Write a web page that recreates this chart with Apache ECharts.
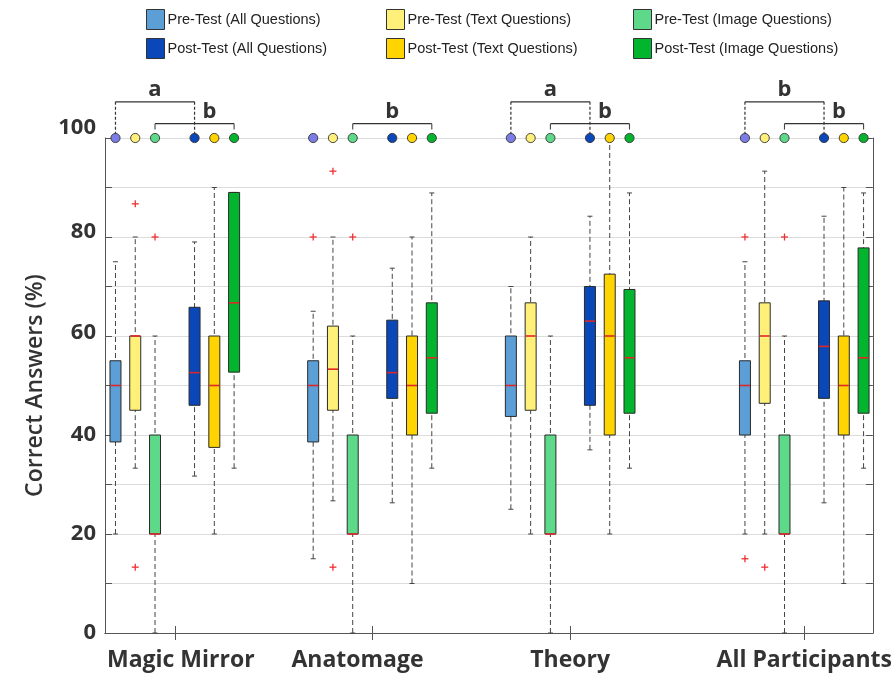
<!DOCTYPE html>
<html>
<head>
<meta charset="utf-8">
<script src="https://cdn.jsdelivr.net/npm/echarts@6/dist/echarts.min.js"></script>
<style>html,body{margin:0;padding:0;background:#fff}#c{width:895px;height:678px}</style>
</head>
<body>
<div id="c"></div>
<script>
// ---- data ----
const categories = ['Magic Mirror', 'Anatomage', 'Theory', 'All Participants'];
const seriesNames = ['Pre-Test (All Questions)', 'Pre-Test (Text Questions)', 'Pre-Test (Image Questions)',
                     'Post-Test (All Questions)', 'Post-Test (Text Questions)', 'Post-Test (Image Questions)'];
// [min, Q1, median, Q3, max] for each category
const preAll    = [[20, 38.6, 50, 55, 75], [15, 38.6, 50, 55, 65], [25, 43.75, 50, 60, 70], [20, 40, 50, 55, 75]];
const preText   = [[33.3, 45, 60, 60, 80], [26.7, 45, 53.3, 62, 80], [20, 45, 60, 66.7, 80], [20, 46.4, 60, 66.7, 93.3]];
const preImage  = [[0, 20, 20, 40, 60], [0, 20, 20, 40, 60], [0, 20, 20, 40, 60], [0, 20, 20, 40, 60]];
const postAll   = [[31.7, 46, 52.6, 65.8, 79], [26.3, 47.4, 52.6, 63.2, 73.7], [37, 46, 63, 70, 84.2], [26.3, 47.4, 57.9, 67.1, 84.2]];
const postText  = [[20, 37.5, 50, 60, 90], [10, 40, 50, 60, 80], [20, 40, 60, 72.5, 100], [10, 40, 50, 60, 90]];
const postImage = [[33.3, 52.7, 66.7, 89, 89], [33.3, 44.4, 55.6, 66.7, 88.9], [33.3, 44.4, 55.6, 69.4, 88.9], [33.3, 44.4, 55.6, 77.8, 88.9]];
// outliers per category
const preAllOut    = [[], [80], [], [80, 15]];
const preTextOut   = [[86.7, 13.3], [93.3, 13.3], [], [13.3]];
const preImageOut  = [[80], [80], [], [80]];
const postAllOut   = [[], [], [], []];
const postTextOut  = [[], [], [], []];
const postImageOut = [[], [], [], []];
// significance brackets
const sigGroup = [0, 0, 1, 2, 2, 3, 3];
const sigFrom  = [0, 2, 2, 0, 2, 0, 2];   // series index
const sigTo    = [3, 5, 5, 3, 5, 3, 5];
const sigLevel = [0, 1, 1, 0, 1, 0, 1];   // 0 = upper (dashed legs), 1 = lower
const sigLabel = ['a', 'b', 'b', 'a', 'b', 'b', 'b'];
const yTicks = [0, 20, 40, 60, 80, 100];

// ---- layout / style ----
const groupPositions = [1, 2, 3, 4.184];
const boxOffsets = [-0.3, -0.2, -0.1, 0.1, 0.2, 0.3];
const boxColors = ['#5b9fd6', '#fff07a', '#5ed98a', '#0a47b8', '#ffd400', '#03b52e'];
const markerColors = ['#7c7ce6', '#fff07a', '#5ed98a', '#0a47b8', '#ffd400', '#03b52e'];
const allBoxes = [preAll, preText, preImage, postAll, postText, postImage];
const allOut = [preAllOut, preTextOut, preImageOut, postAllOut, postTextOut, postImageOut];
const FONT = "'Open Sans', 'Lato', sans-serif";

function makeBoxRender(s) {
  return function (params, api) {
    const x = api.value(0);
    const yMin = api.coord([x, api.value(1)])[1];
    const yQ1 = api.coord([x, api.value(2)])[1];
    const yMed = api.coord([x, api.value(3)])[1];
    const yQ3 = api.coord([x, api.value(4)])[1];
    const yMax = api.coord([x, api.value(5)])[1];
    const cx = api.coord([x, 0])[0];
    const hw = 5.5, cw = 2.5;
    const children = [];
    children.push({ type: 'line', shape: { x1: cx, y1: yMin, x2: cx, y2: yMax },
      style: { stroke: '#444', lineWidth: 1, lineDash: [5, 3] } });
    children.push({ type: 'line', shape: { x1: cx - cw, y1: yMin, x2: cx + cw, y2: yMin }, style: { stroke: '#444', lineWidth: 1 } });
    children.push({ type: 'line', shape: { x1: cx - cw, y1: yMax, x2: cx + cw, y2: yMax }, style: { stroke: '#444', lineWidth: 1 } });
    children.push({ type: 'rect', shape: { x: cx - hw, y: yQ3, width: 2 * hw, height: yQ1 - yQ3 },
      style: { fill: boxColors[s], stroke: '#2a2a2a', lineWidth: 1 } });
    children.push({ type: 'line', shape: { x1: cx - hw + 0.5, y1: yMed, x2: cx + hw - 0.5, y2: yMed },
      style: { stroke: '#e0262a', lineWidth: 1.6 } });
    const outs = allOut[s][params.dataIndex];
    outs.forEach(function (v) {
      const p = api.coord([x, v]);
      children.push({ type: 'line', shape: { x1: p[0] - 3.5, y1: p[1], x2: p[0] + 3.5, y2: p[1] }, style: { stroke: '#f03030', lineWidth: 1.3 } });
      children.push({ type: 'line', shape: { x1: p[0], y1: p[1] - 3.5, x2: p[0], y2: p[1] + 3.5 }, style: { stroke: '#f03030', lineWidth: 1.3 } });
    });
    const m = api.coord([x, 100]);
    children.push({ type: 'circle', shape: { cx: m[0], cy: m[1], r: 4.6 },
      style: { fill: markerColors[s], stroke: '#333', lineWidth: 0.9 } });
    return { type: 'group', children: children };
  };
}

const series = [];
// brackets
series.push({
  type: 'custom', name: 'sig', clip: false, z: 1,
  data: sigGroup.map(function (g, i) {
    return [groupPositions[g] + boxOffsets[sigFrom[i]], groupPositions[g] + boxOffsets[sigTo[i]], sigLevel[i], g];
  }),
  renderItem: function (params, api) {
    const i = params.dataIndex;
    const x1 = api.value(0), x2 = api.value(1), lvl = api.value(2), g = api.value(3);
    const lineVal = lvl === 0 ? 107.3 : 102.9;
    const legVal = lvl === 0 ? 100 : 101.7;
    const a = api.coord([x1, lineVal]), b = api.coord([x2, lineVal]);
    const a2 = api.coord([x1, legVal]), b2 = api.coord([x2, legVal]);
    const legStyle = lvl === 0 ? { stroke: '#333', lineWidth: 1.2, lineDash: [3, 2] } : { stroke: '#444', lineWidth: 1.1 };
    // shift lower label when an upper bracket's leg passes through its middle
    let shift = 0;
    if (lvl === 1) {
      for (let k = 0; k < sigGroup.length; k++) if (sigGroup[k] === g && sigLevel[k] === 0) shift = 15;
    }
    return { type: 'group', children: [
      { type: 'line', shape: { x1: a[0], y1: a[1], x2: b[0], y2: b[1] }, style: { stroke: '#333', lineWidth: 1.2 } },
      { type: 'line', shape: { x1: a[0], y1: a[1], x2: a2[0], y2: a2[1] }, style: legStyle },
      { type: 'line', shape: { x1: b[0], y1: b[1], x2: b2[0], y2: b2[1] }, style: legStyle },
      { type: 'text', style: { text: sigLabel[i], x: (a[0] + b[0]) / 2 + shift, y: a[1] - 12,
        align: 'center', verticalAlign: 'middle', fontSize: 22, fontWeight: 'bold', fontFamily: FONT, fill: '#333' } }
    ] };
  }
});
for (let s = 0; s < 6; s++) {
  series.push({
    type: 'custom', name: seriesNames[s], clip: false, z: 2,
    itemStyle: { color: boxColors[s], borderColor: '#333', borderWidth: 1 },
    encode: { x: 0, y: [1, 2, 3, 4, 5] },
    data: allBoxes[s].map(function (b, g) { return [groupPositions[g] + boxOffsets[s]].concat(b); }),
    renderItem: makeBoxRender(s)
  });
}

const xMin = 0.647, xMax = 4.531;
const labelRich = {
  base: { fontSize: 22, fontWeight: 'bold', color: '#333', fontFamily: FONT },
  up10: { fontSize: 22, fontWeight: 'bold', color: '#333', fontFamily: FONT, padding: [0, 0, 20, 0] },
  up5:  { fontSize: 22, fontWeight: 'bold', color: '#333', fontFamily: FONT, padding: [0, 0, 10, 0] },
  up3:  { fontSize: 22, fontWeight: 'bold', color: '#333', fontFamily: FONT, padding: [0, 0, 6, 0] }
};
const catRich = {
  c: { fontSize: 23, fontWeight: 'bold', color: '#333', fontFamily: FONT },
  cl: { fontSize: 23, fontWeight: 'bold', color: '#333', fontFamily: FONT, padding: [0, 30, 0, 0] },
  cr: { fontSize: 23, fontWeight: 'bold', color: '#333', fontFamily: FONT, padding: [0, 0, 0, 12] }
};
const option = {
  animation: false,
  backgroundColor: '#fff',
  legend: [0, 1, 2].map(function (c) {
    return {
      orient: 'vertical', left: [146, 386, 633][c], top: 9, padding: 0,
      itemWidth: 18, itemHeight: 20, itemGap: 8, icon: 'rect',
      itemStyle: { borderColor: '#333', borderWidth: 1 },
      textStyle: { fontFamily: "'Liberation Sans', Arial, sans-serif", fontSize: 14.5, color: '#222', padding: [0, 0, 0, -2] },
      data: [seriesNames[c], seriesNames[c + 3]]
    };
  }),
  grid: { left: 105, right: 19, top: 138, bottom: 45 },
  xAxis: [
    { type: 'value', position: 'bottom', min: xMin, max: xMax,
      axisLine: { show: true, lineStyle: { color: '#555', width: 1 } },
      axisTick: { show: true, inside: true, length: 7, customValues: groupPositions, lineStyle: { color: '#555' } },
      axisLabel: { customValues: groupPositions, margin: 16, rich: catRich,
        formatter: function (v) {
          let best = 0;
          for (let i = 1; i < groupPositions.length; i++) if (Math.abs(groupPositions[i] - v) < Math.abs(groupPositions[best] - v)) best = i;
          const key = best === 1 ? 'cl' : (best === 0 ? 'cr' : 'c');
          return '{' + key + '|' + categories[best] + '}';
        } },
      splitLine: { show: false } },
    { type: 'value', position: 'top', min: xMin, max: xMax,
      axisLine: { show: true, lineStyle: { color: '#555', width: 1 } },
      axisTick: { show: true, inside: true, length: 7, customValues: groupPositions, lineStyle: { color: '#555' } },
      axisLabel: { show: false }, splitLine: { show: false } }
  ],
  yAxis: [
    { type: 'value', position: 'left', min: 0, max: 100, interval: 10,
      name: 'Correct Answers (%)', nameLocation: 'middle', nameGap: 58, nameRotate: 90,
      nameTextStyle: { fontSize: 23, fontWeight: 600, color: '#333', fontFamily: FONT },
      axisLine: { show: true, lineStyle: { color: '#555', width: 1 } },
      axisTick: { show: true, inside: true, length: 7, lineStyle: { color: '#555' } },
      axisLabel: { margin: 9, rich: labelRich,
        formatter: function (v) {
          if (yTicks.indexOf(v) < 0) return '';
          const key = v === 100 ? 'up10' : v === 80 ? 'up5' : v === 60 ? 'up3' : 'base';
          return '{' + key + '|' + v + '}';
        } },
      splitLine: { show: true, lineStyle: { color: '#dcdcdc', width: 1 } } },
    { type: 'value', position: 'right', min: 0, max: 100, interval: 10,
      axisLine: { show: true, lineStyle: { color: '#555', width: 1 } },
      axisTick: { show: true, inside: true, length: 7, lineStyle: { color: '#555' } },
      axisLabel: { show: false }, splitLine: { show: false } }
  ],
  series: series
};
const chart = echarts.init(document.getElementById('c'), null, { renderer: 'canvas' });
chart.setOption(option);
</script>
</body>
</html>
